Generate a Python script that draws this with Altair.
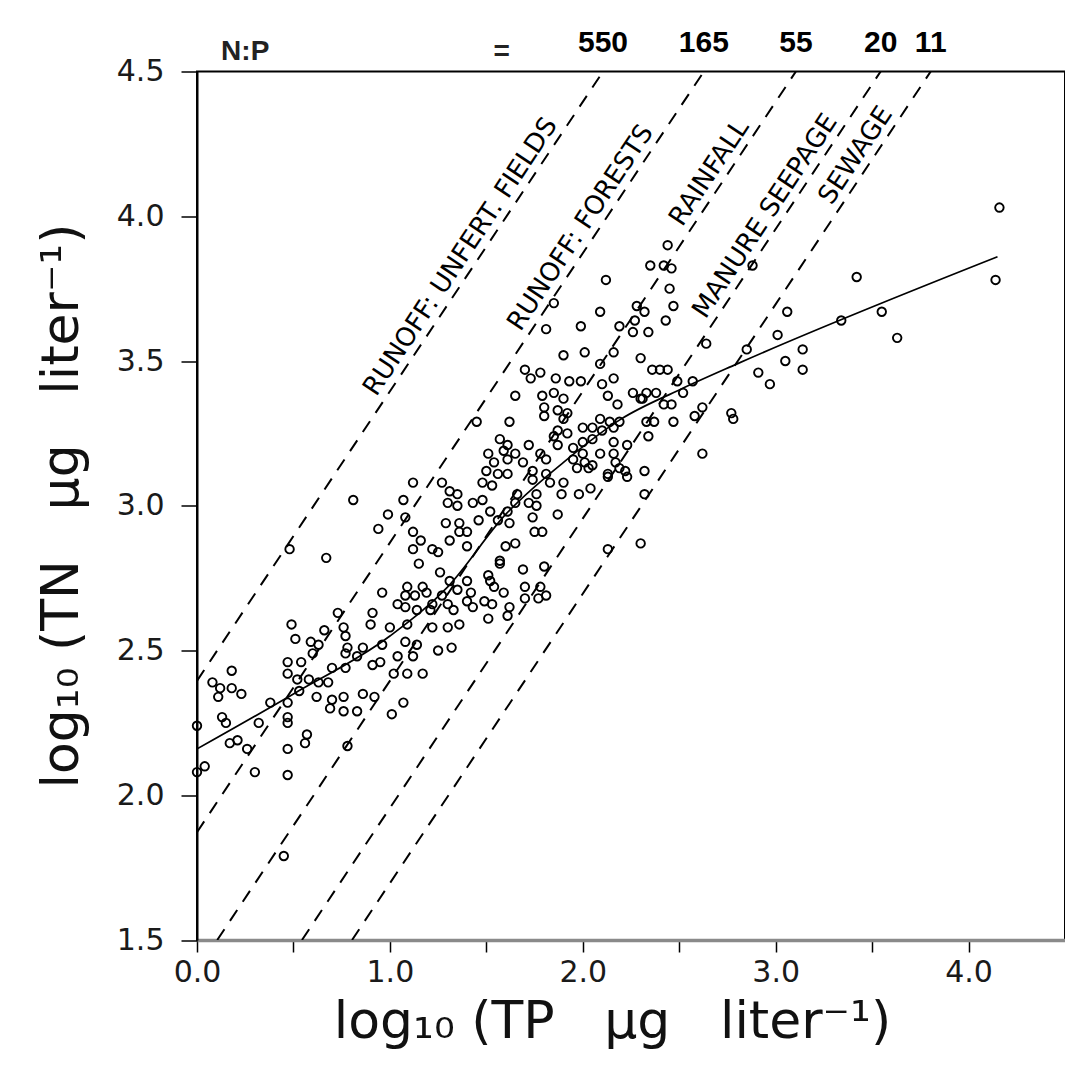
import math
import altair as alt
import pandas as pd

# ---------------- data (log10 TP, log10 TN) ----------------
LOWER_LEFT = [
    (0.81, 3.02), (0.99, 2.97), (0.94, 2.92), (0.48, 2.85), (0.67, 2.82), (0.96, 2.70),
    (0.73, 2.63), (0.91, 2.63), (1.04, 2.66), (0.49, 2.59), (0.66, 2.57), (0.76, 2.58),
    (0.90, 2.59), (1.00, 2.58), (0.51, 2.54), (0.59, 2.53), (0.63, 2.52), (0.77, 2.55),
    (0.78, 2.51), (0.86, 2.51), (0.96, 2.52), (0.60, 2.49), (0.77, 2.49), (0.83, 2.48),
    (0.91, 2.45), (0.95, 2.46), (1.04, 2.48), (0.47, 2.46), (0.54, 2.46), (0.70, 2.44),
    (0.77, 2.44), (0.47, 2.42), (1.02, 2.42), (0.52, 2.40), (0.58, 2.40), (0.63, 2.39),
    (0.68, 2.39), (0.18, 2.43), (0.08, 2.39), (0.12, 2.37), (0.18, 2.37), (0.23, 2.35),
    (0.11, 2.34), (0.53, 2.36), (0.62, 2.34), (0.70, 2.33), (0.76, 2.34), (0.86, 2.35),
    (0.92, 2.34), (0.38, 2.32), (0.47, 2.32), (0.69, 2.30), (0.76, 2.29), (0.83, 2.29),
    (1.01, 2.28), (0.13, 2.27), (0.47, 2.27), (0.00, 2.24), (0.15, 2.25), (0.32, 2.25),
    (0.47, 2.25), (0.57, 2.21), (0.56, 2.18), (0.17, 2.18), (0.21, 2.19), (0.26, 2.16),
    (0.47, 2.16), (0.78, 2.17), (0.04, 2.10), (0.00, 2.08), (0.30, 2.08), (0.47, 2.07),
    (0.45, 1.79), (1.07, 2.32),
]

UPPER = [
    (2.44, 3.90), (2.35, 3.83), (2.42, 3.83), (2.46, 3.82), (2.12, 3.78), (2.45, 3.75),
    (2.28, 3.69), (2.47, 3.69), (2.09, 3.67), (2.32, 3.67), (2.43, 3.64), (1.85, 3.70),
    (1.99, 3.62), (1.81, 3.61), (2.19, 3.62), (2.27, 3.64), (2.26, 3.60), (2.34, 3.60),
]

CENTRE = [
    (1.90, 3.52), (2.01, 3.53), (2.16, 3.53), (2.30, 3.51), (2.09, 3.49), (1.70, 3.47),
    (1.78, 3.46), (1.73, 3.44), (2.36, 3.47), (2.40, 3.47), (2.44, 3.47), (1.86, 3.44),
    (1.93, 3.43), (1.99, 3.43), (2.16, 3.44), (2.10, 3.42), (2.26, 3.39), (2.33, 3.39),
    (2.38, 3.39), (2.49, 3.43), (2.52, 3.39), (2.57, 3.43), (1.65, 3.38), (1.79, 3.38),
    (1.85, 3.39), (1.90, 3.37), (2.13, 3.38), (2.30, 3.37), (1.80, 3.34), (1.87, 3.33),
    (1.92, 3.32), (2.18, 3.35), (2.31, 3.37), (2.42, 3.35), (2.46, 3.35), (2.58, 3.31),
    (1.45, 3.29), (1.62, 3.29), (1.80, 3.31), (1.90, 3.30), (2.09, 3.30), (2.14, 3.29),
    (2.19, 3.29), (2.33, 3.29), (2.37, 3.29), (2.47, 3.29), (1.87, 3.26), (1.92, 3.25),
    (2.00, 3.27), (2.05, 3.27), (2.10, 3.26), (2.16, 3.27), (2.34, 3.24), (1.57, 3.23),
    (1.61, 3.21), (1.72, 3.21), (1.85, 3.24), (1.87, 3.21), (2.00, 3.22), (2.05, 3.23),
    (2.16, 3.22), (2.23, 3.21), (1.51, 3.18), (1.59, 3.19), (1.65, 3.18), (1.78, 3.18),
    (1.95, 3.20), (2.00, 3.18), (2.09, 3.18), (2.16, 3.18), (1.54, 3.15), (1.61, 3.16),
    (1.69, 3.15), (1.81, 3.16), (1.95, 3.16), (2.01, 3.15), (2.05, 3.14), (2.17, 3.15),
    (2.19, 3.13), (1.50, 3.12), (1.56, 3.11), (1.61, 3.11), (1.74, 3.12), (1.81, 3.11),
    (1.97, 3.13), (2.03, 3.13), (2.13, 3.11), (2.22, 3.12), (2.32, 3.12), (1.48, 3.08),
    (1.53, 3.07), (1.74, 3.09), (1.83, 3.08), (1.90, 3.08), (2.13, 3.10), (2.23, 3.10),
    (1.12, 3.08), (1.27, 3.08), (1.31, 3.05), (1.35, 3.04), (1.43, 3.01), (1.48, 3.02),
    (1.66, 3.04), (1.76, 3.04), (1.89, 3.04), (1.98, 3.04), (2.04, 3.06), (2.32, 3.04),
    (1.07, 3.02), (1.30, 3.01), (1.35, 3.00), (1.65, 3.01), (1.72, 3.01), (1.76, 3.00),
    (1.52, 2.98), (1.61, 2.98),
]

MIDDLE = [
    (1.08, 2.96), (1.29, 2.94), (1.36, 2.94), (1.46, 2.95), (1.56, 2.95), (1.62, 2.94),
    (1.74, 2.96), (1.87, 2.97), (1.12, 2.91), (1.31, 2.88), (1.36, 2.91), (1.40, 2.91),
    (1.75, 2.91), (1.79, 2.91), (1.16, 2.88), (1.12, 2.85), (1.22, 2.85), (1.25, 2.84),
    (1.40, 2.86), (1.60, 2.86), (1.65, 2.87), (2.30, 2.87), (2.13, 2.85), (1.15, 2.80),
    (1.57, 2.81), (1.57, 2.80), (1.69, 2.78), (1.80, 2.79), (1.26, 2.77), (1.51, 2.76),
    (1.31, 2.74), (1.09, 2.72), (1.17, 2.72), (1.40, 2.74), (1.52, 2.74), (1.54, 2.72),
    (1.70, 2.72), (1.78, 2.72), (1.08, 2.69), (1.13, 2.69), (1.19, 2.70), (1.27, 2.69),
    (1.35, 2.71), (1.42, 2.70), (1.59, 2.70), (1.49, 2.67), (1.70, 2.68), (1.77, 2.68),
    (1.81, 2.69), (1.22, 2.66), (1.30, 2.66), (1.40, 2.67), (1.08, 2.65), (1.14, 2.64),
    (1.21, 2.64), (1.33, 2.64), (1.43, 2.65), (1.53, 2.66), (1.62, 2.65), (1.51, 2.61),
    (1.61, 2.62), (1.09, 2.59), (1.22, 2.58), (1.30, 2.58), (1.36, 2.59), (1.08, 2.53),
    (1.14, 2.52), (1.25, 2.50), (1.32, 2.51), (1.12, 2.48), (1.09, 2.42), (1.17, 2.42),
]

RIGHT = [
    (4.16, 4.03), (3.42, 3.79), (4.14, 3.78), (3.06, 3.67), (3.55, 3.67), (3.34, 3.64),
    (3.01, 3.59), (3.63, 3.58), (3.14, 3.54), (3.05, 3.50), (3.14, 3.47), (2.91, 3.46),
    (2.97, 3.42), (2.85, 3.54), (2.88, 3.83), (2.64, 3.56), (2.62, 3.34), (2.77, 3.32),
    (2.78, 3.30), (2.62, 3.18),
]

# fitted (smoothed) relation drawn as the solid line
FIT_TP = [0.00, 0.50, 1.00, 1.30, 1.60, 1.90, 2.20, 2.50, 2.80, 4.15]
FIT_TN = [2.16, 2.35, 2.55, 2.72, 2.97, 3.15, 3.30, 3.40, 3.49, 3.86]

# N:P atomic ratios of the dashed reference lines and their sources
NP_RATIOS = [550, 165, 55, 20, 11]
NP_TEXT = ["550", "165", "55", "20", "11"]
SOURCES = ["RUNOFF: UNFERT. FIELDS", "RUNOFF: FORESTS", "RAINFALL",
           "MANURE  SEEPAGE", "SEWAGE"]
SOURCE_TN = [3.83, 3.93, 4.12, 3.97, 4.18]   # where each label sits along its line
N_MASS, P_MASS = 14.0, 31.0

X_MIN, X_MAX = 0.0, 4.5
Y_MIN, Y_MAX = 1.5, 4.5
X_TICKS = [0.0, 0.5, 1.0, 1.5, 2.0, 2.5, 3.0, 3.5, 4.0]
Y_TICKS = [1.5, 2.0, 2.5, 3.0, 3.5, 4.0, 4.5]

# ---------------- tables ----------------
pts = pd.DataFrame(LOWER_LEFT + UPPER + CENTRE + MIDDLE + RIGHT, columns=["tp", "tn"])
fit = pd.DataFrame({"tp": FIT_TP, "tn": FIT_TN})

rows, tops, labs = [], [], []
for r, t, src, ly in zip(NP_RATIOS, NP_TEXT, SOURCES, SOURCE_TN):
    c = math.log10(r * N_MASS / P_MASS)
    x0, y0 = (X_MIN, X_MIN + c) if X_MIN + c >= Y_MIN else (Y_MIN - c, Y_MIN)
    x1, y1 = Y_MAX - c, Y_MAX
    rows += [{"np": r, "tp": x0, "tn": y0}, {"np": r, "tp": x1, "tn": y1}]
    tops.append({"tp": x1, "t": t})
    labs.append({"tp": ly - c, "tn": ly, "t": src})
ref = pd.DataFrame(rows)
topdf = pd.DataFrame(tops)
labdf = pd.DataFrame(labs)
hdr = pd.DataFrame({"tp": [0.25, 1.58], "t": ["N:P", "="]})

xs = alt.Scale(domain=[X_MIN, X_MAX], nice=False, zero=False)
ys = alt.Scale(domain=[Y_MIN, Y_MAX], nice=False, zero=False)

NB = "\u00a0"
x_title = f"log₁₀ (TP{NB}{NB} μg{NB}{NB} liter⁻¹)"
y_title = f"log₁₀ (TN{NB}{NB} μg{NB}{NB} liter⁻¹)"

x_axis = alt.Axis(
    values=X_TICKS,
    labelExpr="datum.value % 1 === 0 ? format(datum.value, '.1f') : ''",
    grid=False, tickSize=12, tickWidth=1.5, tickColor="black",
    domainColor="#8a8a8a", domainWidth=3.5,
    labelFont="DejaVu Sans", labelFontSize=30, labelColor="#1a1a1a", labelPadding=5,
    labelFlush=False, labelOverlap=False,
    title=x_title, titleFont="DejaVu Sans", titleFontSize=52, titleFontWeight="normal",
    titleColor="#111", titleX=415, titleY=97, titleAlign="center", titleBaseline="alphabetic",
)
y_axis = alt.Axis(
    values=Y_TICKS, format=".1f",
    grid=False, tickSize=16, tickWidth=1.5, tickColor="black",
    domainColor="black", domainWidth=2,
    labelFont="DejaVu Sans", labelFontSize=30, labelColor="#1a1a1a", labelPadding=17,
    labelFlush=False, labelOverlap=False,
    title=y_title, titleFont="DejaVu Sans", titleFontSize=52, titleFontWeight="normal",
    titleColor="#111", titleAngle=270, titleX=-120, titleY=434, titleAlign="center",
    titleBaseline="alphabetic",
)

base_x = alt.X("tp:Q", scale=xs, axis=x_axis)
base_y = alt.Y("tn:Q", scale=ys, axis=y_axis)

points = alt.Chart(pts).mark_point(
    shape="circle", filled=False, size=72, strokeWidth=1.9, color="black", opacity=1
).encode(x=base_x, y=base_y)

refs = alt.Chart(ref).mark_line(
    color="black", strokeWidth=2, strokeDash=[13, 10], clip=True
).encode(x=alt.X("tp:Q", scale=xs), y=alt.Y("tn:Q", scale=ys), detail="np:N")

fitline = alt.Chart(fit).mark_line(
    color="black", strokeWidth=1.7, interpolate="monotone", clip=True
).encode(x=alt.X("tp:Q", scale=xs), y=alt.Y("tn:Q", scale=ys))

srclabels = alt.Chart(labdf).mark_text(
    angle=303.67, align="center", baseline="middle", dy=-16,
    font="DejaVu Sans", fontSize=26, color="black"
).encode(x=alt.X("tp:Q", scale=xs), y=alt.Y("tn:Q", scale=ys), text="t:N")

toplabels = alt.Chart(topdf).mark_text(
    align="center", baseline="alphabetic", font="Liberation Sans",
    fontWeight="bold", fontSize=30, color="black"
).encode(x=alt.X("tp:Q", scale=xs), y=alt.value(-19.5), text="t:N")

header = alt.Chart(hdr).mark_text(
    align="center", baseline="alphabetic", font="Liberation Sans",
    fontWeight="bold", fontSize=28, color="#222"
).encode(x=alt.X("tp:Q", scale=xs), y=alt.value(-11.5), text="t:N")

chart = (
    alt.layer(refs, fitline, points, srclabels, toplabels, header)
    .properties(
        width=868, height=868.5,
        autosize=alt.AutoSizeParams(type="none"),
        padding={"left": 189, "top": 63.5, "right": 0, "bottom": 110},
        background="white",
    )
    .configure_view(stroke="black", strokeWidth=2)
)

chart.save("out.html", embed_options={"renderer": "svg", "actions": False})
